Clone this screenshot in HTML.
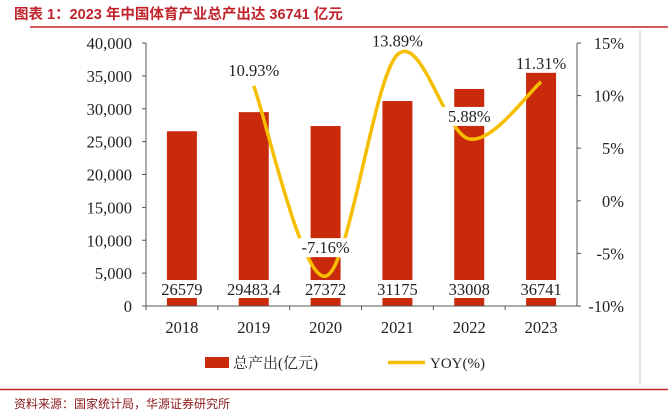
<!DOCTYPE html>
<html><head><meta charset="utf-8"><style>
body{margin:0;background:#fff;}
svg{display:block;font-family:"Liberation Serif","Noto Serif CJK SC",serif;}
</style></head><body>
<svg width="668" height="420">
<text x="14" y="19" font-family="'Liberation Sans','Noto Sans CJK SC',sans-serif" font-weight="bold" font-size="14.5" fill="#c0232b">图表 1：2023 年中国体育产业总产出达 36741 亿元</text>
<line x1="30" y1="27" x2="668" y2="27" stroke="#c0232b" stroke-width="1.5"/>
<line x1="640" y1="30" x2="640" y2="385" stroke="#ccc"/>
<line x1="0" y1="389.5" x2="668" y2="389.5" stroke="#c0232b" stroke-width="1.5"/>
<text x="14" y="408" font-family="'Liberation Sans','Noto Sans CJK SC',sans-serif" font-size="12" fill="#8b1a1a">资料来源：国家统计局，华源证券研究所</text>
<g id="plot"></g>
<g>
<rect x="205" y="357" width="24" height="11" fill="#c92a0c"/>
<text x="233" y="368" font-size="15" fill="#222">总产出(亿元)</text>
<line x1="388" y1="362.5" x2="425" y2="362.5" stroke="#f5be00" stroke-width="3.5"/>
<text x="430" y="368" font-size="15" fill="#222">YOY(%)</text>
</g>
</svg>
<script>
const categories=["2018","2019","2020","2021","2022","2023"];
const outputValues=[26579,29483.4,27372,31175,33008,36741];
const outputLabels=["26579","29483.4","27372","31175","33008","36741"];
const yoyValues=[null,10.93,-7.16,13.89,5.88,11.31];
const yoyLabels=["","10.93%","-7.16%","13.89%","5.88%","11.31%"];
const leftTicks=[0,5000,10000,15000,20000,25000,30000,35000,40000];
const rightTicks=[-10,-5,0,5,10,15];

const NS="http://www.w3.org/2000/svg";
const g=document.getElementById('plot');
const X0=146,X1=577,Y0=306,Y1=43;
const band=(X1-X0)/categories.length;
const xc=i=>X0+band*(i+0.5);
const yL=v=>Y0-(v/40000)*(Y0-Y1);
const yR=v=>Y0-((v+10)/25)*(Y0-Y1);
function el(t,a,txt){const e=document.createElementNS(NS,t);for(const k in a)e.setAttribute(k,a[k]);if(txt!==undefined)e.textContent=txt;g.appendChild(e);return e;}

outputValues.forEach((v,i)=>{
 const b=el('rect',{x:xc(i)-15,y:yL(v),width:30,height:Y0-yL(v),fill:'#c92a0c'});
 
 
});
let a=el('line',{x1:X0,y1:Y1,x2:X0,y2:Y0,stroke:'#555'});

a=el('line',{x1:X1,y1:Y1,x2:X1,y2:Y0,stroke:'#555'});

a=el('line',{x1:X0,y1:Y0,x2:X1,y2:Y0,stroke:'#555'});

leftTicks.forEach(v=>{
 el('line',{x1:X0-4,y1:yL(v),x2:X0,y2:yL(v),stroke:'#555'});
 const t=el('text',{x:X0-14,y:yL(v)+6,'text-anchor':'end','font-size':16.5,fill:'#222'},v.toLocaleString('en-US'));
 
});
rightTicks.forEach(v=>{
 el('line',{x1:X1,y1:yR(v),x2:X1+4,y2:yR(v),stroke:'#555'});
 const t=el('text',{x:X1+47,y:yR(v)+6,'text-anchor':'end','font-size':16.5,fill:'#222'},v+'%');
 
});
categories.forEach((c,i)=>{
 el('line',{x1:X0+band*i,y1:Y0,x2:X0+band*i,y2:Y0+4,stroke:'#555'});
 const t=el('text',{x:xc(i),y:Y0+27,'text-anchor':'middle','font-size':16.5,fill:'#222'},c);
 
});
const pts=[];yoyValues.forEach((v,i)=>{if(v!==null)pts.push([xc(i),yR(v)]);});
let d='M'+pts[0][0]+','+pts[0][1];
for(let i=0;i<pts.length-1;i++){
 const p0=pts[i-1]||pts[i],p1=pts[i],p2=pts[i+1],p3=pts[i+2]||p2;
 const c1=[p1[0]+(p2[0]-p0[0])/6,p1[1]+(p2[1]-p0[1])/6];
 const c2=[p2[0]-(p3[0]-p1[0])/6,p2[1]-(p3[1]-p1[1])/6];
 d+=` C${c1[0]},${c1[1]} ${c2[0]},${c2[1]} ${p2[0]},${p2[1]}`;
}
const line=el('path',{d:d,fill:'none',stroke:'#f5be00','stroke-width':3.5});

outputLabels.forEach((s,i)=>{
 el('rect',{x:xc(i)-27,y:280,width:54,height:18,fill:'#fff'});
 const t=el('text',{x:xc(i),y:295,'text-anchor':'middle','font-size':16.5,fill:'#222'},s);
 
});
const offs={1:-10,2:-23,3:-8,4:-17,5:-13};
yoyValues.forEach((v,i)=>{
 if(v===null)return;
 const y=yR(v)+offs[i];
 const w=54;
 if(i!==3)el('rect',{x:xc(i)-w/2,y:y-15,width:w,height:19,fill:'#fff'});
 const t=el('text',{x:xc(i),y:y,'text-anchor':'middle','font-size':16.5,fill:'#222'},yoyLabels[i]);
 
});
</script>
</body></html>
